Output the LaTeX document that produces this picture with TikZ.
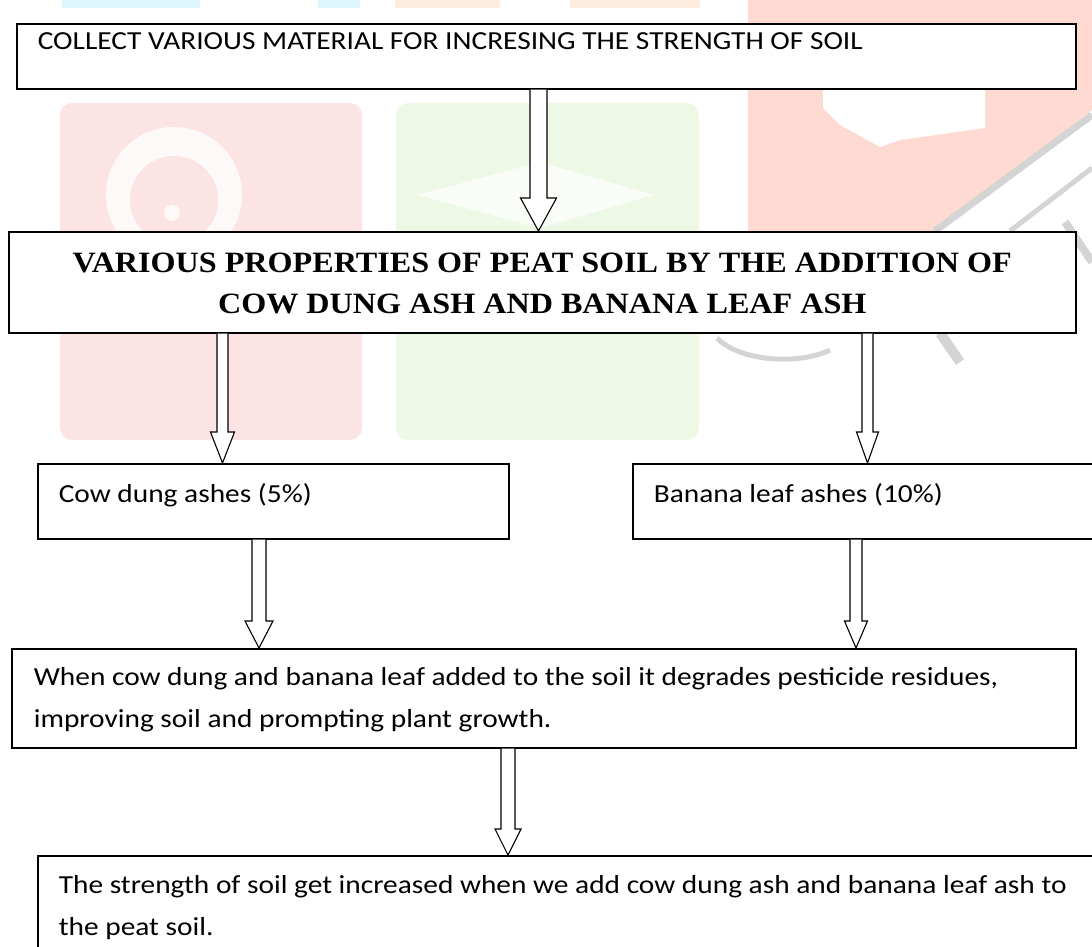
\documentclass[tikz,border=0pt]{standalone}
\usepackage{fontspec}
\setmainfont{Carlito}[FakeStretch=1.13]
\newfontfamily\tnr{Liberation Serif}[FakeStretch=1.09]
\usetikzlibrary{calc}
\definecolor{wmpink}{RGB}{253,228,228}
\definecolor{wmgreen}{RGB}{237,248,229}
\definecolor{wmsalmon}{RGB}{254,218,210}
\definecolor{wmgray}{RGB}{212,212,212}
\definecolor{wmcyan}{RGB}{220,246,252}
\definecolor{wmorange}{RGB}{254,236,222}
\tikzset{
  flowbox/.style={draw=black, line width=1.6pt, fill=white, inner sep=0pt, anchor=north west},
  blockarr/.style={draw=black, line width=1.1pt, fill=white, line join=miter},
}
% #1 width, #2 height, #3 first baseline from top, #4 left indent, #5 text
\newcommand\inbox[5]{\parbox[c][#2][t]{#1}{\fontsize{26}{42}\selectfont\raggedright\leftskip=#4\relax\rule{0pt}{#3}#5}}
% #1 start, #2 tip, #3 half shaft, #4 half head, #5 head length
\newcommand\blockarrow[5]{\draw[blockarr] let \p1=(#1), \p2=(#2) in
  (\x1-#3,\y1) -- (\x1-#3,\y2+#5) -- (\x1-#4,\y2+#5) -- (\x1,\y2) -- (\x1+#4,\y2+#5) -- (\x1+#3,\y2+#5) -- (\x1+#3,\y1);}
\begin{document}
\begin{tikzpicture}[x=1pt,y=-1pt]
\useasboundingbox (0,0) rectangle (1092,947);
% faint watermark
\fill[wmcyan] (62,0) rectangle (200,8);
\fill[wmcyan] (318,0) rectangle (360,8);
\fill[wmorange] (395,0) rectangle (500,8);
\fill[wmorange] (570,0) rectangle (700,8);
\fill[wmsalmon] (748,0) -- (1092,0) -- (1092,110) -- (935,231) -- (748,231) -- cycle;
\fill[white] (823,88) -- (985,88) -- (985,128) -- (900,140) -- (880,147) -- (840,125) -- (823,108) -- cycle;
\fill[wmpink, rounded corners=12pt] (60,103) rectangle (362,440);
\fill[white, opacity=0.8] (174,195) circle (68);
\fill[wmpink] (174,200) circle (44);
\fill[white, opacity=0.8] (172,213) circle (8);
\fill[wmgreen, rounded corners=12pt] (396,103) rectangle (699,440);
\fill[white, opacity=0.7] (417,195) -- (540,162) -- (654,195) -- (540,228) -- cycle;
\draw[wmgray, line width=7pt] (1092,115) -- (935,231);
\draw[wmgray, line width=5pt] (1092,168) -- (1010,231);
\draw[wmgray, line width=10pt] (940,333) -- (960,362);
\draw[wmgray, line width=8pt] (1065,222) -- (1092,262);
\draw[wmgray, line width=5pt] (717,338) .. controls (740,362) and (800,365) .. (830,350);
% boxes
\node[flowbox] (b1) at (16,23) {\inbox{1059pt}{65pt}{26pt}{21pt}{COLLECT VARIOUS MATERIAL FOR INCRESING THE STRENGTH OF SOIL}};
\node[flowbox] (b2) at (8,231) {\parbox[c][101pt][t]{1067pt}{\tnr\bfseries\fontsize{29.5}{41}\selectfont\centering\rule{0pt}{41pt}VARIOUS PROPERTIES OF PEAT SOIL BY THE ADDITION OF\\ COW DUNG ASH AND BANANA LEAF ASH\par}};
\node[flowbox] (b3) at (37,463) {\inbox{471pt}{75pt}{39pt}{21pt}{Cow dung ashes (5\%)}};
\node[flowbox] (b4) at (632,463) {\inbox{470pt}{75pt}{39pt}{21pt}{Banana leaf ashes (10\%)}};
\node[flowbox] (b5) at (11,648) {\inbox{1064pt}{99pt}{37pt}{22pt}{When cow dung and banana leaf added to the soil it degrades pesticide residues,\\ improving soil and prompting plant growth.}};
\node[flowbox] (b6) at (37,855) {\inbox{1065pt}{110pt}{38pt}{21pt}{The strength of soil get increased when we add cow dung ash and banana leaf ash to\\ the peat soil.}};
% arrow positions
\coordinate (x1) at (538.5,0);
\coordinate (x2) at (222.5,0);
\coordinate (x3) at (867.5,0);
\coordinate (x4) at (259,0);
\coordinate (x5) at (856,0);
\coordinate (x6) at (508,0);
\blockarrow{b1.south -| x1}{b2.north -| x1}{8.5}{18}{33}
\blockarrow{b2.south -| x2}{b3.north -| x2}{5.5}{12}{31}
\blockarrow{b2.south -| x3}{b4.north -| x3}{5.5}{11}{31}
\blockarrow{b3.south -| x4}{b5.north -| x4}{7}{14}{27}
\blockarrow{b4.south -| x5}{b5.north -| x5}{6}{11.5}{27}
\blockarrow{b5.south -| x6}{b6.north -| x6}{7}{13}{26}
\end{tikzpicture}
\end{document}
